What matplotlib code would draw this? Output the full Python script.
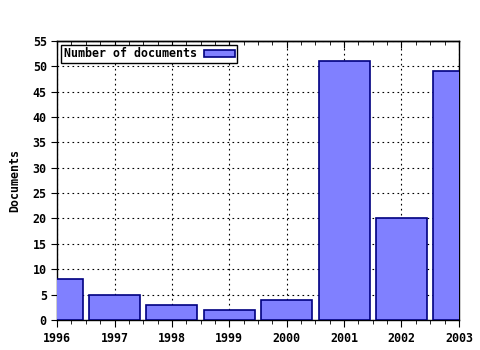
import matplotlib
matplotlib.use('Agg')
import matplotlib.pyplot as plt
from matplotlib.ticker import MultipleLocator, AutoMinorLocator

# data
years = [1996, 1997, 1998, 1999, 2000, 2001, 2002, 2003]
docs = [8, 5, 3, 2, 4, 51, 20, 49]

plt.rcParams['font.family'] = 'DejaVu Sans Mono'
plt.rcParams['font.weight'] = 'bold'
plt.rcParams['font.size'] = 8.4

fig = plt.figure(figsize=(4.8, 3.5), dpi=100)
ax = fig.add_axes([0.119, 0.086, 0.837, 0.797])

ax.bar(years, docs, width=0.89, color='#8080ff', edgecolor='#000080',
       linewidth=1.2, label='Number of documents', zorder=3)

ax.set_xlim(1996, 2003)
ax.set_ylim(0, 55)
ax.set_xticks(years)
ax.set_xticklabels([str(y) for y in years])
ax.xaxis.set_minor_locator(AutoMinorLocator(4))
ax.yaxis.set_major_locator(MultipleLocator(5))

ax.grid(True, which='major', linestyle=(0, (1.5, 3)), color='black', linewidth=0.8, zorder=0)
ax.tick_params(axis='x', which='major', direction='out', length=5)
ax.tick_params(axis='x', which='minor', direction='out', length=3)
ax.tick_params(axis='y', which='major', direction='out', length=4)
ax.tick_params(labelsize=8.4)

# ticks on top point inward
top = ax.secondary_xaxis('top')
top.set_xticks(years)
top.xaxis.set_minor_locator(AutoMinorLocator(4))
top.tick_params(which='major', direction='in', length=5, labeltop=False)
top.tick_params(which='minor', direction='in', length=3)
top.spines['top'].set_linewidth(1.0)

for s in ax.spines.values():
    s.set_linewidth(1.0)

ax.set_ylabel('Documents', fontsize=8.4, fontweight='bold', labelpad=8)

leg = ax.legend(loc='upper left', markerfirst=False, fancybox=False,
                framealpha=1, edgecolor='black', borderpad=0.2,
                handlelength=2.7, handleheight=0.5, handletextpad=0.6,
                borderaxespad=0.35,
                prop={'family': 'DejaVu Sans Mono', 'weight': 'bold', 'size': 8.4})
leg.get_frame().set_linewidth(1.0)

fig.savefig('out.png', dpi=100)
